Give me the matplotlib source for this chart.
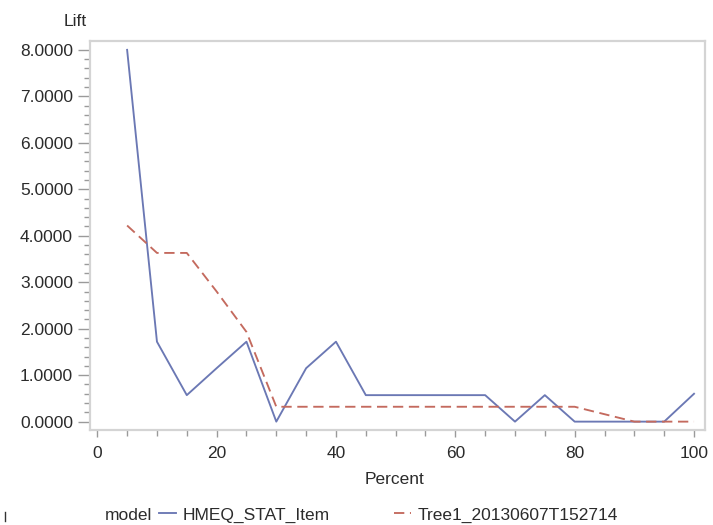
import matplotlib
matplotlib.use("Agg")
import matplotlib.pyplot as plt
from matplotlib.lines import Line2D
from matplotlib.ticker import MultipleLocator, FormatStrFormatter

plt.rcParams['font.family'] = ['Liberation Sans', 'DejaVu Sans']

# Lift by depth percentile for two models
percent = [5, 10, 15, 20, 25, 30, 35, 40, 45, 50, 55, 60, 65, 70, 75, 80, 85, 90, 95, 100]
lift_hmeq = [8.00, 1.72, 0.57, 1.15, 1.72, 0.00, 1.15, 1.72, 0.57, 0.57,
             0.57, 0.57, 0.57, 0.00, 0.57, 0.00, 0.00, 0.00, 0.00, 0.60]
lift_tree = [4.22, 3.63, 3.63, 2.80, 1.93, 0.32, 0.32, 0.32, 0.32, 0.32,
             0.32, 0.32, 0.32, 0.32, 0.32, 0.32, 0.16, 0.00, 0.00, 0.00]
series_names = ["HMEQ_STAT_Item", "Tree1_20130607T152714"]
group_title = "model"
x_label = "Percent"
y_label = "Lift"

BLUE = "#6b78b4"
RED = "#c46a5e"
TXT = "#2b2b2b"
SPINE = "#d4d4d4"
TICK = "#9a9a9a"
FS = 12.5

fig = plt.figure(figsize=(7.13, 5.25), dpi=100)
ax = fig.add_axes([90 / 713, 1 - 430 / 525, (705 - 90) / 713, (430 - 41) / 525])

ax.plot(percent, lift_hmeq, color=BLUE, lw=1.35, label=series_names[0])
ax.plot(percent, lift_tree, color=RED, lw=1.35, dashes=(5.5, 3), label=series_names[1])

ax.set_xlim(-1.22, 101.84)
ax.set_ylim(-0.18, 8.19)

ax.xaxis.set_major_locator(MultipleLocator(20))
ax.xaxis.set_minor_locator(MultipleLocator(5))
ax.yaxis.set_major_locator(MultipleLocator(1))
ax.yaxis.set_minor_locator(MultipleLocator(0.2))
ax.yaxis.set_major_formatter(FormatStrFormatter('%.4f'))

ax.tick_params(axis='both', which='major', direction='out', width=1,
               color=TICK, labelsize=FS, labelcolor=TXT)
ax.tick_params(axis='y', which='major', length=8.6, pad=3.6)
ax.tick_params(axis='x', which='major', length=5, pad=6.5)
ax.tick_params(axis='x', which='minor', direction='out', length=4, width=1, color=TICK)
ax.tick_params(axis='y', which='minor', direction='out', length=4.3, width=1, color=TICK)

for s in ax.spines.values():
    s.set_color(SPINE)
    s.set_linewidth(1.6)

fig.text(87 / 713, 1 - 21 / 525, y_label, ha='right', va='center', fontsize=FS, color=TXT)
fig.text(395 / 713, 1 - 480 / 525, x_label, ha='center', va='center', fontsize=FS, color=TXT)

# legend row
fig.text(105 / 713, 1 - 515 / 525, group_title, ha='left', va='center', fontsize=FS, color=TXT)
handles = [Line2D([], [], color=BLUE, lw=1.35),
           Line2D([], [], color=RED, lw=1.35, dashes=(5.5, 3))]
leg = fig.legend(handles, series_names, loc='center left', bbox_to_anchor=(159 / 713, 1 - 515 / 525),
                 ncol=2, frameon=False, fontsize=FS, handlelength=1.0, handletextpad=0.35,
                 columnspacing=3.7, borderpad=0, borderaxespad=0)
for t in leg.get_texts():
    t.set_color(TXT)

fig.add_artist(Line2D([5 / 713, 5 / 713], [1 - 512 / 525, 1 - 521 / 525], color="#333333", lw=1))

fig.savefig("out.png", dpi=100)
